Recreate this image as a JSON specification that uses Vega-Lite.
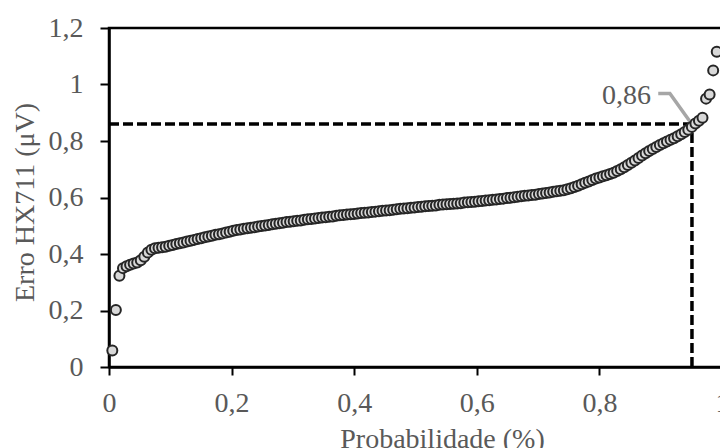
{
  "$schema": "https://vega.github.io/schema/vega-lite/v6.json",
  "width": 613,
  "height": 339,
  "autosize": {"type": "none"},
  "padding": {"left": 109, "top": 28, "right": 0, "bottom": 81},
  "background": "white",
  "config": {
    "view": {"stroke": "black", "strokeWidth": 2.5},
    "axis": {
      "grid": false,
      "domainColor": "black",
      "domainWidth": 2.5,
      "tickColor": "black",
      "tickWidth": 2,
      "labelFont": "Liberation Serif",
      "labelFontSize": 28,
      "labelColor": "#595959",
      "titleFont": "Liberation Serif",
      "titleFontSize": 28,
      "titleFontWeight": "normal",
      "titleColor": "#595959",
      "labelFlush": false,
      "labelOverlap": false
    }
  },
  "datasets": {
    "pts": [
      {"x": 0.0054, "y": 0.058}, {"x": 0.0112, "y": 0.202}, {"x": 0.0170, "y": 0.323}, {"x": 0.0228, "y": 0.350},
      {"x": 0.0286, "y": 0.357}, {"x": 0.0344, "y": 0.362}, {"x": 0.0402, "y": 0.366}, {"x": 0.0460, "y": 0.370},
      {"x": 0.0518, "y": 0.378}, {"x": 0.0576, "y": 0.390}, {"x": 0.0634, "y": 0.405}, {"x": 0.0692, "y": 0.415},
      {"x": 0.0750, "y": 0.420}, {"x": 0.0808, "y": 0.422}, {"x": 0.0866, "y": 0.424}, {"x": 0.0924, "y": 0.426},
      {"x": 0.0982, "y": 0.429}, {"x": 0.1040, "y": 0.432}, {"x": 0.1098, "y": 0.435}, {"x": 0.1156, "y": 0.438},
      {"x": 0.1214, "y": 0.441}, {"x": 0.1272, "y": 0.444}, {"x": 0.1330, "y": 0.447}, {"x": 0.1388, "y": 0.450},
      {"x": 0.1446, "y": 0.453}, {"x": 0.1504, "y": 0.456}, {"x": 0.1562, "y": 0.459}, {"x": 0.1620, "y": 0.462},
      {"x": 0.1678, "y": 0.465}, {"x": 0.1736, "y": 0.468}, {"x": 0.1794, "y": 0.470}, {"x": 0.1852, "y": 0.473},
      {"x": 0.1910, "y": 0.476}, {"x": 0.1968, "y": 0.479}, {"x": 0.2026, "y": 0.482}, {"x": 0.2084, "y": 0.485},
      {"x": 0.2142, "y": 0.487}, {"x": 0.2200, "y": 0.489}, {"x": 0.2258, "y": 0.491}, {"x": 0.2316, "y": 0.493},
      {"x": 0.2374, "y": 0.495}, {"x": 0.2432, "y": 0.497}, {"x": 0.2490, "y": 0.499}, {"x": 0.2548, "y": 0.501},
      {"x": 0.2606, "y": 0.503}, {"x": 0.2664, "y": 0.505}, {"x": 0.2722, "y": 0.507}, {"x": 0.2780, "y": 0.509},
      {"x": 0.2838, "y": 0.511}, {"x": 0.2896, "y": 0.513}, {"x": 0.2954, "y": 0.514}, {"x": 0.3012, "y": 0.516},
      {"x": 0.3070, "y": 0.518}, {"x": 0.3128, "y": 0.519}, {"x": 0.3186, "y": 0.521}, {"x": 0.3244, "y": 0.523},
      {"x": 0.3302, "y": 0.524}, {"x": 0.3360, "y": 0.526}, {"x": 0.3418, "y": 0.527}, {"x": 0.3476, "y": 0.529},
      {"x": 0.3534, "y": 0.530}, {"x": 0.3592, "y": 0.532}, {"x": 0.3650, "y": 0.533}, {"x": 0.3708, "y": 0.535},
      {"x": 0.3766, "y": 0.537}, {"x": 0.3824, "y": 0.538}, {"x": 0.3882, "y": 0.540}, {"x": 0.3940, "y": 0.541},
      {"x": 0.3998, "y": 0.542}, {"x": 0.4056, "y": 0.543}, {"x": 0.4114, "y": 0.545}, {"x": 0.4172, "y": 0.546},
      {"x": 0.4230, "y": 0.547}, {"x": 0.4288, "y": 0.549}, {"x": 0.4346, "y": 0.550}, {"x": 0.4404, "y": 0.551},
      {"x": 0.4462, "y": 0.553}, {"x": 0.4520, "y": 0.554}, {"x": 0.4578, "y": 0.555}, {"x": 0.4636, "y": 0.557},
      {"x": 0.4694, "y": 0.558}, {"x": 0.4752, "y": 0.560}, {"x": 0.4810, "y": 0.561}, {"x": 0.4868, "y": 0.562},
      {"x": 0.4926, "y": 0.564}, {"x": 0.4984, "y": 0.565}, {"x": 0.5042, "y": 0.566}, {"x": 0.5100, "y": 0.567},
      {"x": 0.5158, "y": 0.569}, {"x": 0.5216, "y": 0.570}, {"x": 0.5274, "y": 0.571}, {"x": 0.5332, "y": 0.572},
      {"x": 0.5390, "y": 0.574}, {"x": 0.5448, "y": 0.575}, {"x": 0.5506, "y": 0.576}, {"x": 0.5564, "y": 0.577},
      {"x": 0.5622, "y": 0.578}, {"x": 0.5680, "y": 0.579}, {"x": 0.5738, "y": 0.580}, {"x": 0.5796, "y": 0.582},
      {"x": 0.5854, "y": 0.583}, {"x": 0.5912, "y": 0.584}, {"x": 0.5970, "y": 0.585}, {"x": 0.6028, "y": 0.587},
      {"x": 0.6086, "y": 0.588}, {"x": 0.6144, "y": 0.589}, {"x": 0.6202, "y": 0.590}, {"x": 0.6260, "y": 0.592},
      {"x": 0.6318, "y": 0.593}, {"x": 0.6376, "y": 0.595}, {"x": 0.6434, "y": 0.596}, {"x": 0.6492, "y": 0.598},
      {"x": 0.6550, "y": 0.599}, {"x": 0.6608, "y": 0.601}, {"x": 0.6666, "y": 0.603}, {"x": 0.6724, "y": 0.604},
      {"x": 0.6782, "y": 0.606}, {"x": 0.6840, "y": 0.607}, {"x": 0.6898, "y": 0.609}, {"x": 0.6956, "y": 0.610},
      {"x": 0.7014, "y": 0.612}, {"x": 0.7072, "y": 0.614}, {"x": 0.7130, "y": 0.616}, {"x": 0.7188, "y": 0.618},
      {"x": 0.7246, "y": 0.620}, {"x": 0.7304, "y": 0.622}, {"x": 0.7362, "y": 0.624}, {"x": 0.7420, "y": 0.626},
      {"x": 0.7478, "y": 0.629}, {"x": 0.7536, "y": 0.633}, {"x": 0.7594, "y": 0.637}, {"x": 0.7652, "y": 0.642},
      {"x": 0.7710, "y": 0.647}, {"x": 0.7768, "y": 0.652}, {"x": 0.7826, "y": 0.657}, {"x": 0.7884, "y": 0.662},
      {"x": 0.7942, "y": 0.667}, {"x": 0.8000, "y": 0.671}, {"x": 0.8058, "y": 0.675}, {"x": 0.8116, "y": 0.679},
      {"x": 0.8174, "y": 0.683}, {"x": 0.8232, "y": 0.688}, {"x": 0.8290, "y": 0.694}, {"x": 0.8348, "y": 0.700},
      {"x": 0.8406, "y": 0.707}, {"x": 0.8464, "y": 0.715}, {"x": 0.8522, "y": 0.723}, {"x": 0.8580, "y": 0.731},
      {"x": 0.8638, "y": 0.740}, {"x": 0.8696, "y": 0.749}, {"x": 0.8754, "y": 0.757}, {"x": 0.8812, "y": 0.765},
      {"x": 0.8870, "y": 0.772}, {"x": 0.8928, "y": 0.779}, {"x": 0.8986, "y": 0.786}, {"x": 0.9044, "y": 0.792},
      {"x": 0.9102, "y": 0.798}, {"x": 0.9160, "y": 0.804}, {"x": 0.9218, "y": 0.810}, {"x": 0.9276, "y": 0.817},
      {"x": 0.9334, "y": 0.824}, {"x": 0.9392, "y": 0.832}, {"x": 0.9450, "y": 0.840}, {"x": 0.9508, "y": 0.850},
      {"x": 0.9566, "y": 0.862}, {"x": 0.9624, "y": 0.872}, {"x": 0.9682, "y": 0.882}, {"x": 0.9740, "y": 0.950},
      {"x": 0.9798, "y": 0.965}, {"x": 0.9856, "y": 1.050}, {"x": 0.9914, "y": 1.116}
    ],
    "guides": [
      {"x": 0, "x2": 0.951, "y": 0.86, "y2": 0.86},
      {"x": 0.951, "x2": 0.951, "y": 0, "y2": 0.86}
    ],
    "leader": [
      {"o": 1, "x": 0.896, "y": 0.968},
      {"o": 2, "x": 0.915, "y": 0.968},
      {"o": 3, "x": 0.948, "y": 0.868}
    ],
    "label": [
      {"x": 0.884, "y": 0.931, "t": "0,86"}
    ]
  },
  "encoding": {
    "x": {
      "field": "x", "type": "quantitative",
      "scale": {"domain": [0, 1], "nice": false, "zero": false},
      "axis": {
        "title": "Probabilidade (%)",
        "values": [0, 0.2, 0.4, 0.6, 0.8, 1],
        "labelExpr": "replace(format(datum.value, '~g'), '.', ',')",
        "tickSize": 8,
        "labelPadding": 14,
        "titleX": 333,
        "titleY": 80,
        "titleAlign": "center",
        "titleBaseline": "alphabetic"
      }
    },
    "y": {
      "field": "y", "type": "quantitative",
      "scale": {"domain": [0, 1.2], "nice": false, "zero": false},
      "axis": {
        "title": "Erro HX711 (μV)",
        "values": [0, 0.2, 0.4, 0.6, 0.8, 1, 1.2],
        "labelExpr": "replace(format(datum.value, '~g'), '.', ',')",
        "tickSize": 9,
        "labelPadding": 17,
        "titleX": -76,
        "titleY": 174,
        "titleAngle": 270,
        "titleAlign": "center",
        "titleBaseline": "alphabetic"
      }
    }
  },
  "layer": [
    {
      "data": {"name": "guides"},
      "mark": {"type": "rule", "color": "black", "strokeWidth": 3.5, "strokeDash": [10, 4]},
      "encoding": {
        "x2": {"field": "x2"},
        "y2": {"field": "y2"}
      }
    },
    {
      "data": {"name": "leader"},
      "mark": {"type": "line", "color": "#a6a6a6", "strokeWidth": 3.5},
      "encoding": {
        "order": {"field": "o", "type": "quantitative"}
      }
    },
    {
      "data": {"name": "pts"},
      "mark": {"type": "point", "shape": "circle", "filled": true, "fill": "#d9d9d9", "stroke": "#262626", "strokeWidth": 2, "size": 100, "opacity": 1}
    },
    {
      "data": {"name": "label"},
      "mark": {"type": "text", "align": "right", "baseline": "alphabetic", "font": "Liberation Serif", "fontSize": 28, "color": "#595959"},
      "encoding": {
        "text": {"field": "t", "type": "nominal"}
      }
    }
  ]
}
